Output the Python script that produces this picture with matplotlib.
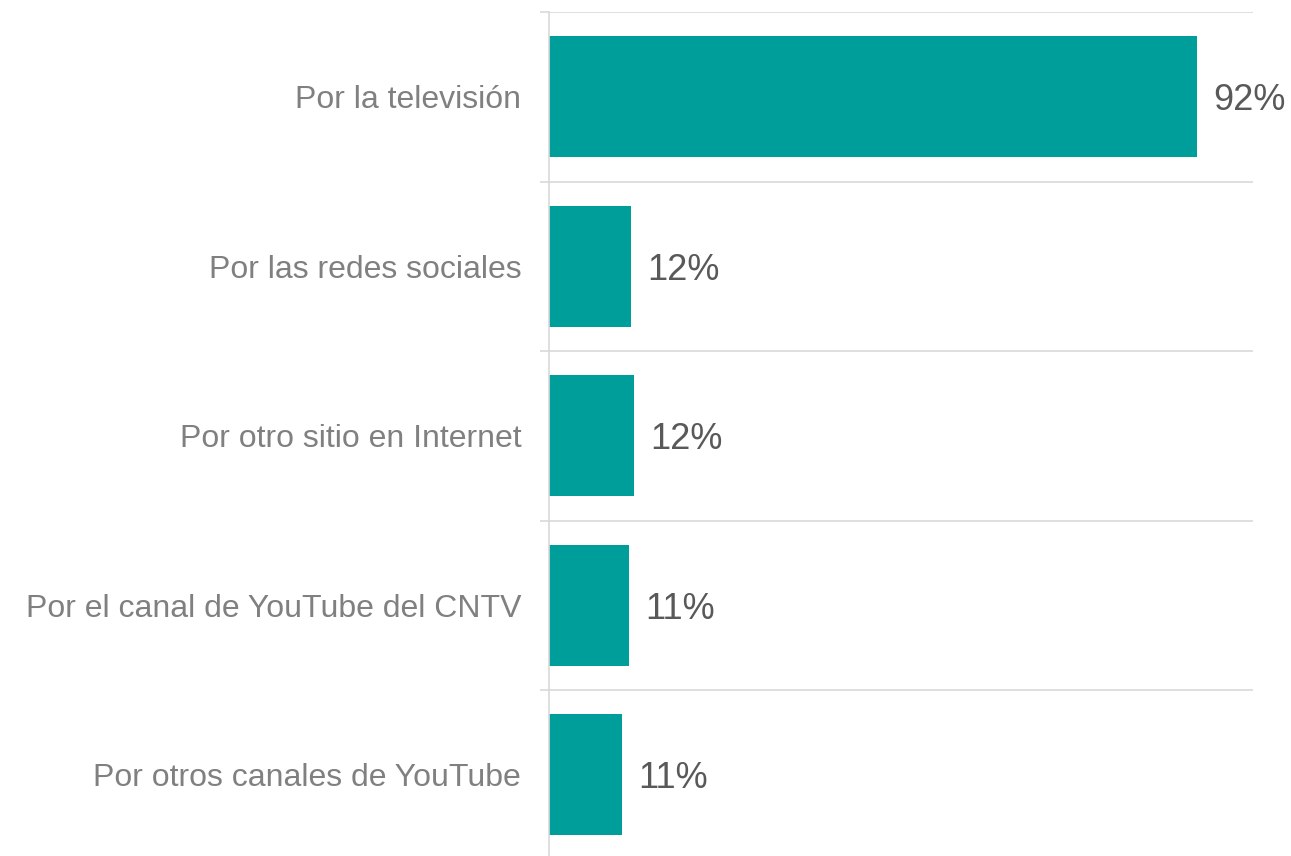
import matplotlib.pyplot as plt
import numpy as np

categories = [
    "Por la televisión",
    "Por las redes sociales",
    "Por otro sitio en Internet",
    "Por el canal de YouTube del CNTV",
    "Por otros canales de YouTube",
]
values = [92.0, 11.7, 12.1, 11.4, 10.4]
value_labels = ["92%", "12%", "12%", "11%", "11%"]

bar_color = "#009E9A"
grid_color = "#D9D9D9"

plt.rcParams["font.family"] = ["Liberation Sans", "DejaVu Sans"]

fig = plt.figure(figsize=(12.91, 8.56), dpi=100)
W, H = 1291, 856
ax = fig.add_axes([549 / W, 1 - 859.5 / H, 704 / W, 847.5 / H])

y = np.arange(len(categories))
ax.barh(y, values, height=0.714, color=bar_color, zorder=3)

for yi, v, lab in zip(y, values, value_labels):
    ax.text(v + 2.3, yi + 0.025, lab, va="center", ha="left", fontsize=26, color="#595959")

ax.set_xlim(0, 100)
ax.set_ylim(len(categories) - 0.5, -0.5)

ax.set_yticks(y)
ax.set_yticklabels(categories, fontsize=23, color="#808080")
ax.set_yticks(np.arange(len(categories) + 1) - 0.5, minor=True)
ax.tick_params(axis="y", which="major", length=0, pad=20)
ax.tick_params(axis="y", which="minor", length=6.5, width=1.2, color=grid_color)
ax.grid(axis="y", which="minor", color=grid_color, linewidth=1.2, zorder=0)
ax.set_xticks([])

for s in ["top", "right", "bottom"]:
    ax.spines[s].set_visible(False)
ax.spines["left"].set_color(grid_color)
ax.spines["left"].set_linewidth(1.2)
ax.spines["left"].set_zorder(4)

fig.savefig("out.png", dpi=100)
